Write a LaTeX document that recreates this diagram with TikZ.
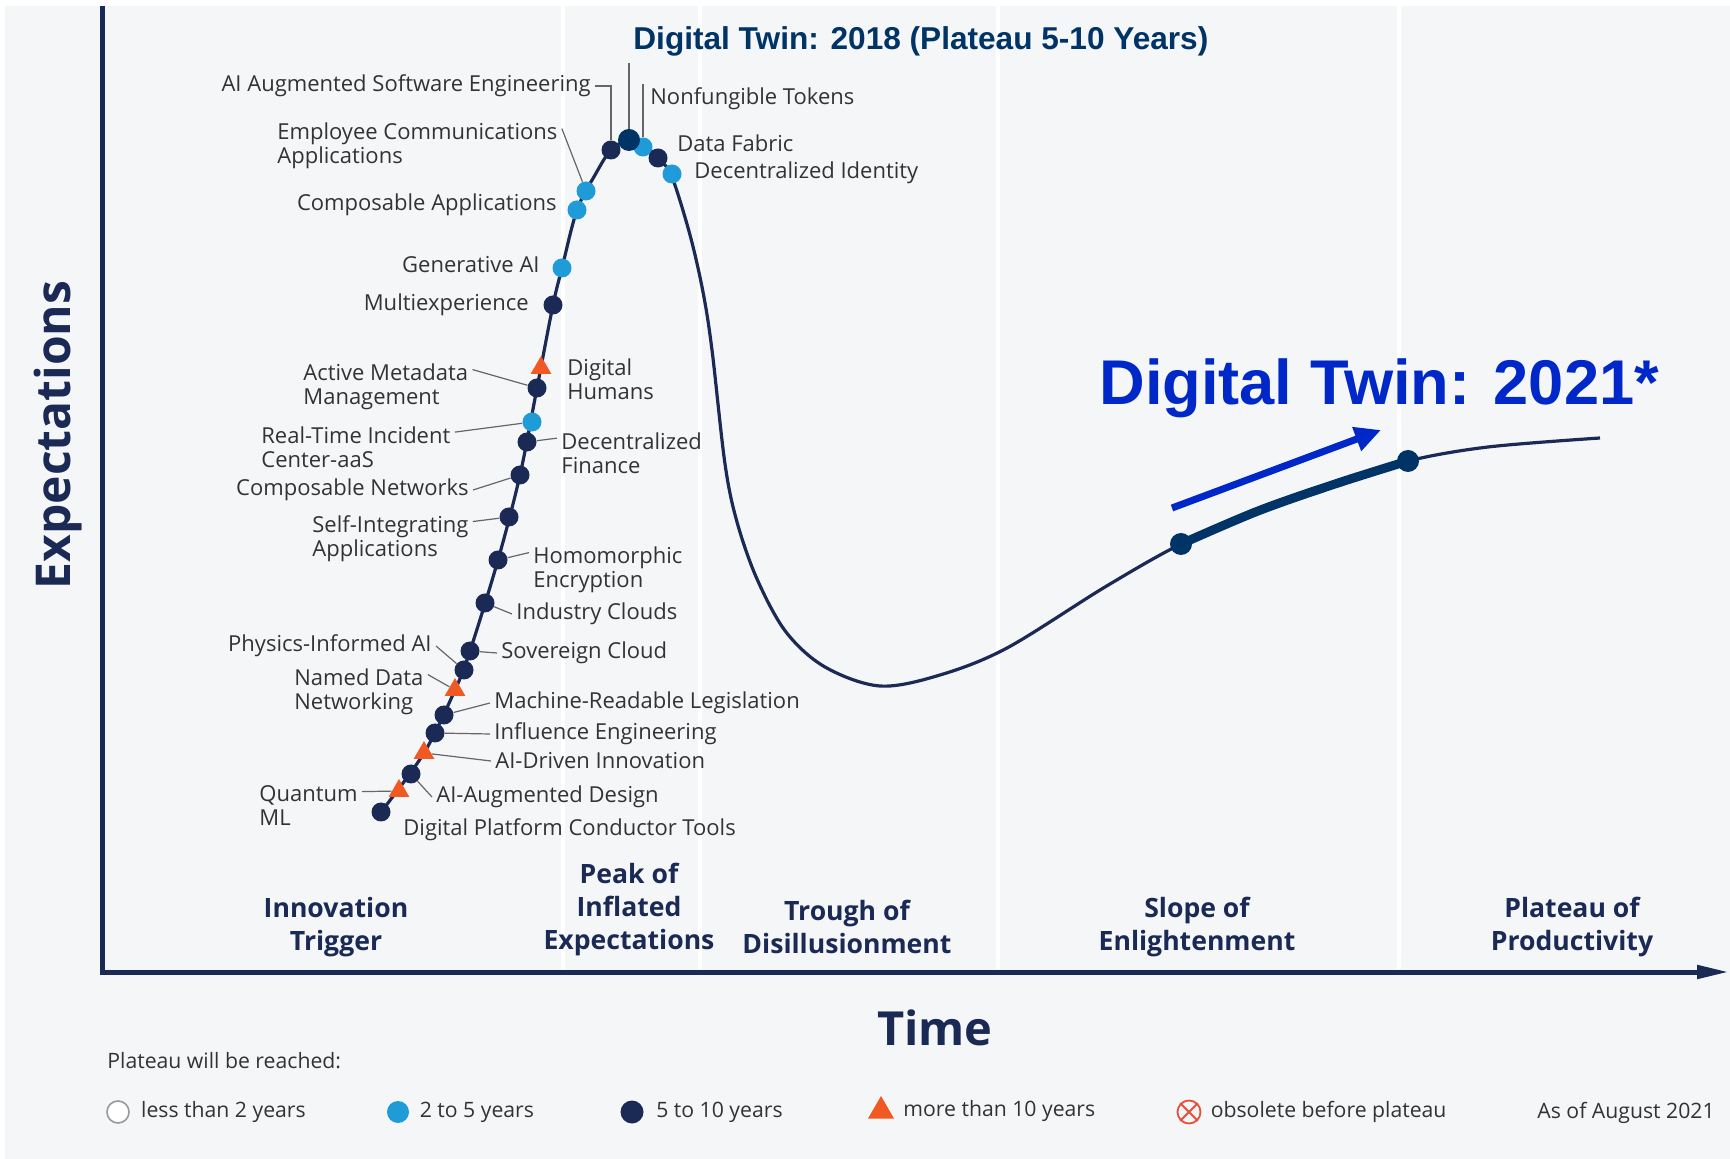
\documentclass[tikz,border=0pt]{standalone}
\usepackage{fontspec}
\setmainfont{Open Sans}
\newfontfamily\arialfont{Liberation Sans}
\usetikzlibrary{shapes.geometric, arrows.meta, positioning}

\definecolor{bgGray}{HTML}{F5F6F8}
\definecolor{hcNavy}{HTML}{1B2A55}
\definecolor{hcLight}{HTML}{1F9BD7}
\definecolor{hcOrange}{HTML}{F05A22}
\definecolor{twinNavy}{HTML}{003366}
\definecolor{twinBlue}{HTML}{0028C8}
\definecolor{txtGray}{HTML}{333333}
\definecolor{obsRed}{HTML}{E8503A}

\begin{document}
\begin{tikzpicture}[x=0.5pt, y=-0.5pt]
		
		% Setup the styles for the curve
		\tikzset{dot style/.style={circle, inner sep=0pt, minimum size=9.5pt, fill=hcNavy},
			light style/.style={dot style, fill=hcLight},
			tri style/.style={regular polygon, regular polygon sides=3, inner sep=0pt, minimum size=12pt, fill=hcOrange},
			twin style/.style={dot style, minimum size=11pt, fill=twinNavy},
			label style/.style={font=\fontsize{11}{12}\selectfont, text=txtGray, inner sep=2pt},
			leader style/.style={draw=black!60, line width=0.6pt},
			phase style/.style={font=\fontsize{13.3}{16.5}\selectfont\bfseries, text=hcNavy, align=center},
			legend style/.style={font=\fontsize{10.6}{12}\selectfont, text=txtGray, inner sep=0pt}}
		
		% Background and phase separators
		\useasboundingbox (0, 0) rectangle (1730, 1159);
		\fill[white] (0, 0) rectangle (1730, 1159);
		\fill[bgGray] (5, 6) rectangle (1730, 1159);
		\foreach \sx in {563, 700, 998, 1399}
			\draw[white, line width=2pt] (\sx, 6) -- (\sx, 969);
		
		% Axes
		\draw[hcNavy, line width=2.5pt, -{Triangle[length=16pt, width=6.5pt]}] (102, 6) -- (102, 972) -- (1729, 972);
		\node[rotate=90, font=\fontsize{24}{28}\selectfont\bfseries, text=hcNavy] at (58, 435) (expTitle) {Expectations};
		\node[font=\fontsize{23.5}{28}\selectfont\bfseries, text=hcNavy] at (935, 1028) (timeTitle) {Time};
		
		% The hype curve
		\draw[hcNavy, line width=1.6pt] plot[smooth, tension=0.55] coordinates {(381, 812) (424, 753) (455, 690) (470, 651) (498, 560) (520, 475) (537, 388) (553, 305) (562, 268) (577, 210) (595, 175) (611, 150) (629, 140) (645, 146) (660, 160) (672, 177) (690, 235) (703, 292) (712, 350) (725, 464) (737, 522) (757, 579) (786, 632) (825, 667) (880, 686) (940, 675) (1007, 648) (1105, 587) (1181, 544) (1258, 511) (1335, 484) (1408, 461) (1488, 447) (1600, 438)};
		\draw[twinNavy, line width=4.5pt, line cap=round] plot[smooth, tension=0.55] coordinates {(1181, 544) (1258, 511) (1335, 484) (1408, 461)};
		
		% Draw the technologies
		\node[dot style] at (381, 812) (dDPCT) {};
		\node[tri style] at (399, 791) (dQML) {};
		\node[dot style] at (411, 774) (dAAD) {};
		\node[tri style] at (424, 753) (dADI) {};
		\node[dot style] at (435, 733) (dIE) {};
		\node[dot style] at (444, 715) (dMRL) {};
		\node[tri style] at (455, 690) (dNDN) {};
		\node[dot style] at (464, 670) (dPIAI) {};
		\node[dot style] at (470, 651) (dSC) {};
		\node[dot style] at (485, 603) (dIC) {};
		\node[dot style] at (498, 560) (dHE) {};
		\node[dot style] at (509, 517) (dSIA) {};
		\node[dot style] at (520, 475) (dCN) {};
		\node[dot style] at (527, 442) (dDeFi) {};
		\node[light style] at (532, 422) (dRTIC) {};
		\node[dot style] at (537, 388) (dAMM) {};
		\node[tri style] at (541, 368) (dDH) {};
		\node[dot style] at (553, 305) (dMX) {};
		\node[light style] at (562, 268) (dGAI) {};
		\node[light style] at (577, 210) (dCA) {};
		\node[light style] at (586, 191) (dECA) {};
		\node[light style] at (643, 147) (dNFT) {};
		\node[dot style] at (611, 150) (dAISE) {};
		\node[twin style] at (629, 140) (dTwin) {};
		\node[dot style] at (658, 158) (dDF) {};
		\node[light style] at (672, 174) (dDI) {};
		
		% Labels on the left side
		\node[label style, anchor=east] at (595, 86) (lAISE) {AI Augmented Software Engineering};
		\node[label style, anchor=west, align=left] at (273, 146) (lECA) {Employee Communications\\Applications};
		\node[label style, anchor=east] at (561, 205) (lCA) {Composable Applications};
		\node[label style, anchor=east] at (544, 265) (lGAI) {Generative AI};
		\node[label style, anchor=east] at (533, 305) (lMX) {Multiexperience};
		\node[label style, anchor=west, align=left] at (299, 387) (lAMM) {Active Metadata\\Management};
		\node[label style, anchor=west, align=left] at (257, 447) (lRTIC) {Real-Time Incident\\Center-aaS};
		\node[label style, anchor=east] at (473, 490) (lCN) {Composable Networks};
		\node[label style, anchor=west, align=left] at (308, 539) (lSIA) {Self-Integrating\\Applications};
		\node[label style, anchor=east] at (436, 646) (lPIAI) {Physics-Informed AI};
		\node[label style, anchor=west, align=left] at (290, 692) (lNDN) {Named Data\\Networking};
		\node[label style, anchor=west, align=left] at (255, 806) (lQML) {Quantum\\ML};
		
		% Labels on the right side
		\node[label style, anchor=west] at (646, 99) (lNFT) {Nonfungible Tokens};
		\node[label style, anchor=west] at (673, 143) (lDF) {Data Fabric};
		\node[label style, anchor=west] at (690, 173) (lDI) {Decentralized Identity};
		\node[label style, anchor=west, align=left] at (563, 379) (lDH) {Digital\\Humans};
		\node[label style, anchor=west, align=left] at (557, 453) (lDeFi) {Decentralized\\Finance};
		\node[label style, anchor=west, align=left] at (529, 570) (lHE) {Homomorphic\\Encryption};
		\node[label style, anchor=west] at (512, 614) (lIC) {Industry Clouds};
		\node[label style, anchor=west] at (497, 653) (lSC) {Sovereign Cloud};
		\node[label style, anchor=west] at (490, 703) (lMRL) {Machine-Readable Legislation};
		\node[label style, anchor=west] at (490, 734) (lIE) {Influence Engineering};
		\node[label style, anchor=west] at (491, 761) (lADI) {AI-Driven Innovation};
		\node[label style, anchor=west] at (432, 797) (lAAD) {AI-Augmented Design};
		\node[label style, anchor=west] at (399, 830) (lDPCT) {Digital Platform Conductor Tools};
		
		% Leader lines
		\draw[leader style] (lAISE.east) -| (dAISE);
		\draw[leader style] ([yshift=-5pt]lECA.north east) -- (dECA);
		\draw[leader style] ([yshift=-5pt]lAMM.north east) -- (dAMM);
		\draw[leader style] ([yshift=-5pt]lRTIC.north east) -- (dRTIC);
		\draw[leader style] (lCN.east) -- (dCN);
		\draw[leader style] ([yshift=-5pt]lSIA.north east) -- (dSIA);
		\draw[leader style] (lPIAI.east) -- (dPIAI);
		\draw[leader style] ([yshift=-5pt]lNDN.north east) -- (dNDN);
		\draw[leader style] ([yshift=-5pt]lQML.north east) -- (dQML);
		\draw[leader style] (dNFT) -- (dNFT |- lNFT.north);
		\draw[leader style] (dDeFi) -- ([yshift=-5pt]lDeFi.north west);
		\draw[leader style] (dHE) -- ([yshift=-5pt]lHE.north west);
		\draw[leader style] (dIC) -- (lIC.west);
		\draw[leader style] (dSC) -- (lSC.west);
		\draw[leader style] (dMRL) -- (lMRL.west);
		\draw[leader style] (dIE) -- (lIE.west);
		\draw[leader style] (dADI) -- (lADI.west);
		\draw[leader style] (dAAD) -- (lAAD.west);
		
		% Digital Twin 2018
		\node[anchor=base west, inner sep=0pt, font=\arialfont\fontsize{15.8}{18}\selectfont\bfseries, text=twinNavy] at (633, 50) (twin18) {Digital Twin: 2018 (Plateau 5-10 Years)};
		\draw[leader style] (dTwin) -- ([yshift=-3pt]dTwin |- twin18.south);
		
		% Digital Twin 2021
		\node[twin style] at (1181, 544) (dTwinA) {};
		\node[twin style] at (1408, 461) (dTwinB) {};
		\coordinate (arrTail) at (1172, 508);
		\coordinate (arrHead) at (1381, 430);
		\draw[twinBlue, line width=3.5pt, -{Triangle[length=13pt, width=12pt]}] (arrTail) -- (arrHead);
		\node[anchor=base west, inner sep=0pt, font=\arialfont\fontsize{31.6}{36}\selectfont\bfseries, text=twinBlue] at (1099, 405) (twin21) {Digital Twin: 2021*};
		
		% Phases
		\node[phase style] at (336, 927) (pTrigger) {Innovation\\Trigger};
		\node[phase style] at (629, 910) (pPeak) {Peak of\\Inflated\\Expectations};
		\node[phase style] at (847, 927) (pTrough) {Trough of\\Disillusionment};
		\node[phase style] at (1197, 927) (pSlope) {Slope of\\Enlightenment};
		\node[phase style] at (1572, 927) (pPlateau) {Plateau of\\Productivity};
		
		% Legend
		\node[legend style, anchor=west] at (107, 1061) (legTitle) {Plateau will be reached:};
		\node[dot style, fill=white, draw=black!40, line width=0.8pt, minimum size=11pt] at (118, 1112) (legA) {};
		\node[legend style, right=5.5pt of legA] (legAtxt) {less than 2 years};
		\node[light style, minimum size=11pt] at (398, 1112) (legB) {};
		\node[legend style, right=5pt of legB] (legBtxt) {2 to 5 years};
		\node[dot style, minimum size=11.5pt] at (632, 1112) (legC) {};
		\node[legend style, right=6pt of legC] (legCtxt) {5 to 10 years};
		\node[tri style, minimum size=15pt] at (881, 1111) (legD) {};
		\node[legend style, anchor=west] at (903, 1111) (legDtxt) {more than 10 years};
		\node[circle, draw=obsRed, line width=0.9pt, inner sep=0pt, minimum size=11.5pt] at (1189, 1112) (legE) {};
		\draw[obsRed, line width=0.9pt] (legE.north west) -- (legE.south east) (legE.north east) -- (legE.south west);
		\node[legend style, right=4.5pt of legE] (legEtxt) {obsolete before plateau};
		\node[legend style, anchor=east] at (1715, 1113) (legDate) {As of August 2021};
		\end{tikzpicture}
\end{document}
